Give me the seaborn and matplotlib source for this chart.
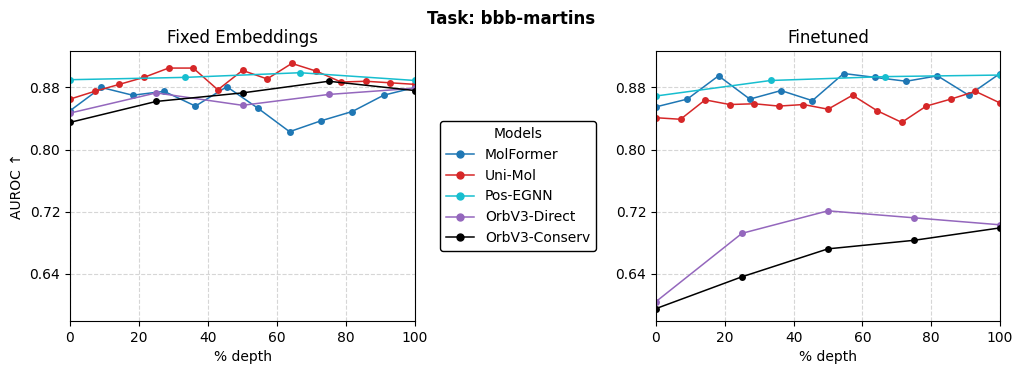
import numpy as np
import pandas as pd
import matplotlib
matplotlib.use("Agg")
import matplotlib.pyplot as plt
import seaborn as sns

# depth grids (% depth)
depth_12 = [0, 9.09, 18.18, 27.27, 36.36, 45.45, 54.55, 63.64, 72.73, 81.82, 90.91, 100]
depth_15 = [0, 7.14, 14.29, 21.43, 28.57, 35.71, 42.86, 50.0, 57.14, 64.29, 71.43, 78.57, 85.71, 92.86, 100]
depth_4 = [0, 33.33, 66.67, 100]
depth_5 = [0, 25, 50, 75, 100]

models = ["MolFormer", "Uni-Mol", "Pos-EGNN", "OrbV3-Direct", "OrbV3-Conserv"]
colors = ["#1f77b4", "#d62728", "#17becf", "#9467bd", "black"]
model_depths = [depth_12, depth_15, depth_4, depth_5, depth_5]

# Fixed embeddings AUROC
fixed_molformer = [0.850, 0.880, 0.870, 0.875, 0.856, 0.881, 0.853, 0.823, 0.837, 0.849, 0.870, 0.880]
fixed_unimol = [0.865, 0.875, 0.884, 0.893, 0.905, 0.905, 0.877, 0.902, 0.891, 0.911, 0.901, 0.887, 0.888, 0.886, 0.884]
fixed_posegnn = [0.890, 0.893, 0.899, 0.889]
fixed_orb_direct = [0.847, 0.873, 0.857, 0.871, 0.879]
fixed_orb_conserv = [0.835, 0.862, 0.873, 0.888, 0.876]

# Finetuned AUROC
ft_molformer = [0.855, 0.865, 0.895, 0.865, 0.876, 0.863, 0.898, 0.893, 0.888, 0.895, 0.870, 0.898]
ft_unimol = [0.841, 0.839, 0.864, 0.858, 0.859, 0.856, 0.858, 0.852, 0.870, 0.850, 0.835, 0.856, 0.865, 0.875, 0.860]
ft_posegnn = [0.869, 0.889, 0.894, 0.896]
ft_orb_direct = [0.604, 0.692, 0.721, 0.712, 0.703]
ft_orb_conserv = [0.595, 0.636, 0.672, 0.683, 0.699]

fixed_vals = [fixed_molformer, fixed_unimol, fixed_posegnn, fixed_orb_direct, fixed_orb_conserv]
ft_vals = [ft_molformer, ft_unimol, ft_posegnn, ft_orb_direct, ft_orb_conserv]


def to_frame(vals):
    rows = []
    for m, d, v in zip(models, model_depths, vals):
        for x, y in zip(d, v):
            rows.append({"model": m, "depth": x, "auroc": y})
    return pd.DataFrame(rows)


fig = plt.figure(figsize=(10.23, 3.74), dpi=100)
ax1 = fig.add_axes([70 / 1023, 53 / 374, 345 / 1023, 270 / 374])
ax2 = fig.add_axes([656 / 1023, 53 / 374, 344 / 1023, 270 / 374], sharey=ax1)

palette = dict(zip(models, colors))
for ax, vals, title in [(ax1, fixed_vals, "Fixed Embeddings"), (ax2, ft_vals, "Finetuned")]:
    df = to_frame(vals)
    sns.lineplot(data=df, x="depth", y="auroc", hue="model", hue_order=models,
                 palette=palette, marker="o", markersize=5, markeredgewidth=0,
                 linewidth=1.1, ax=ax, legend=False, sort=False)
    ax.set_title(title, fontsize=12)
    ax.set_xlim(0, 100)
    ax.set_xlabel("% depth")
    ax.set_ylabel("")
    ax.grid(True, linestyle="--", color="#d6d6d6", linewidth=0.8)
    ax.set_axisbelow(True)

ax1.set_ylim(0.579, 0.927)
ax1.set_yticks([0.64, 0.72, 0.80, 0.88])
ax1.set_yticklabels(["0.64", "0.72", "0.80", "0.88"])
ax1.set_ylabel("AUROC ↑")
ax2.tick_params(labelleft=True)

handles = [plt.Line2D([], [], color=c, marker="o", markersize=5, linewidth=1.1) for c in colors]
leg = fig.legend(handles, models, title="Models", loc="center",
                 bbox_to_anchor=(518 / 1023, 1 - 186 / 374), frameon=True, fancybox=True)
leg.get_frame().set_edgecolor("black")
leg.get_frame().set_alpha(1)

fig.suptitle("Task: bbb-martins", fontweight="bold", fontsize=12, y=0.972)
fig.savefig("out.png", dpi=100)
